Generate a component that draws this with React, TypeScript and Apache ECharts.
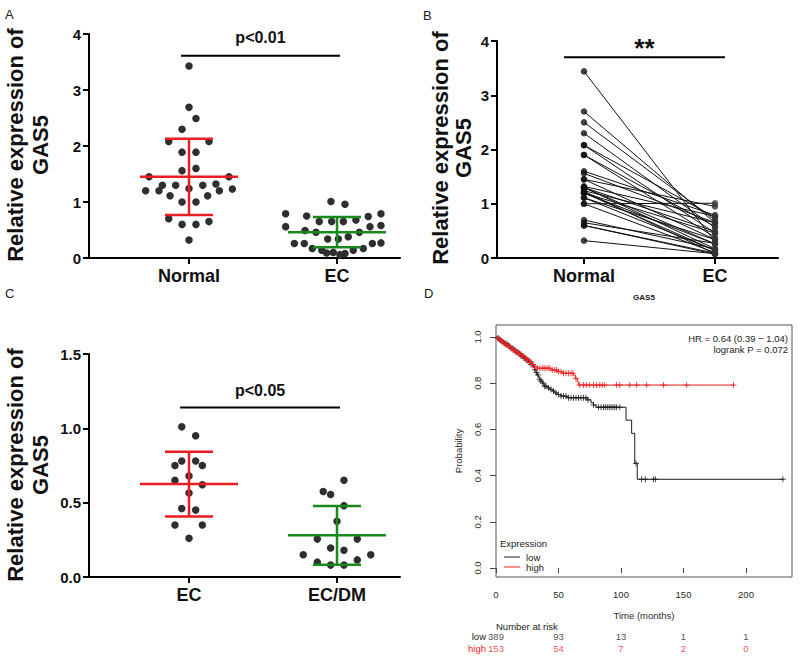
import React, { useEffect, useRef } from 'react';
import * as echarts from 'echarts';

const FONT = '"Liberation Sans", Arial, Helvetica, sans-serif';
const RED = '#ee1c22';
const GREEN = '#178a1b';
const DOT = '#2f2f2f';
const KM_RED = '#f01e1e';
const KM_BLACK = '#1c1c1c';

// ---------- Panel A ----------
const catsA = ['Normal', 'EC'];
const normalA = [3.43, 2.69, 2.49, 2.30, 2.08, 2.08, 1.89, 1.89, 1.56, 1.60, 1.45, 1.45, 1.30, 1.30, 1.30, 1.32, 1.20, 1.20, 1.24, 1.20, 1.23, 1.11, 1.11, 1.00, 1.00, 0.70, 0.60, 0.60, 0.65, 0.32];
const normalAJitter = [0, 0, 0.047, -0.047, -0.137, 0.135, -0.047, 0.047, -0.047, 0.047, -0.27, 0.27, -0.18, -0.09, 0.093, 0.182, -0.293, -0.203, 0, 0.205, 0.293, -0.128, 0.126, -0.047, 0.047, -0.137, -0.047, 0.047, 0.135, 0];
const ecA = [1.01, 0.96, 0.79, 0.75, 0.74, 0.79, 0.65, 0.65, 0.65, 0.68, 0.56, 0.56, 0.58, 0.49, 0.46, 0.46, 0.34, 0.34, 0.38, 0.26, 0.26, 0.26, 0.27, 0.17, 0.14, 0.14, 0.17, 0.10, 0.08, 0.09, 0.06];
const ecAJitter = [-0.041, 0.054, -0.347, -0.205, 0.211, 0.297, -0.12, -0.036, 0.043, 0.128, -0.347, 0.223, 0.297, -0.216, -0.142, 0.151, -0.063, 0.009, 0.076, -0.288, -0.221, 0.239, 0.297, -0.167, -0.103, 0.11, 0.178, -0.025, 0.054, -0.07, 0.02];
const meanA = [1.45, 0.46];
const sdA = [0.68, 0.27];

// ---------- Panel B (paired) ----------
const catsB = ['Normal', 'EC'];
const pairedNormalB = [3.44, 2.70, 2.50, 2.30, 2.08, 2.08, 1.90, 1.90, 1.60, 1.56, 1.45, 1.45, 1.32, 1.30, 1.30, 1.30, 1.24, 1.20, 1.20, 1.20, 1.23, 1.11, 1.11, 1.00, 1.00, 0.70, 0.65, 0.60, 0.60, 0.32];
const pairedEcB = [0.30, 0.65, 0.70, 0.56, 0.75, 0.46, 0.38, 0.58, 0.79, 0.65, 0.95, 0.34, 0.77, 0.26, 0.49, 0.17, 0.65, 0.46, 0.14, 0.26, 0.08, 0.34, 0.14, 1.01, 0.10, 0.17, 0.27, 0.09, 0.07, 0.08];

// ---------- Panel C ----------
const catsC = ['EC', 'EC/DM'];
const ecC = [1.01, 0.95, 0.78, 0.78, 0.75, 0.75, 0.68, 0.65, 0.62, 0.565, 0.46, 0.45, 0.35, 0.35, 0.26];
const ecCJitter = [-0.049, 0.045, -0.049, 0.045, -0.095, 0.09, 0, -0.095, 0.09, 0, -0.049, 0.045, -0.095, 0.09, 0];
const dmC = [0.65, 0.575, 0.555, 0.48, 0.375, 0.255, 0.255, 0.195, 0.18, 0.15, 0.15, 0.10, 0.115, 0.08, 0.08];
const dmCJitter = [0.047, -0.093, -0.043, 0.047, 0, -0.133, 0.137, -0.043, 0.047, -0.228, 0.228, -0.133, 0.137, -0.043, 0.047];
const meanC = [0.625, 0.28];
const sdC = [0.218, 0.197];

// ---------- Panel D (Kaplan-Meier) ----------
const kmLowSteps = [[0, 1.0], [1, 0.995], [2.5, 0.99], [4, 0.984], [5.5, 0.978], [7, 0.972], [8.5, 0.966], [10, 0.959], [12, 0.951], [14, 0.943], [16, 0.935], [18, 0.927], [20, 0.918], [22, 0.909], [24, 0.9], [26, 0.891], [28, 0.881], [30, 0.868], [31, 0.858], [32, 0.846], [33, 0.836], [34, 0.826], [35, 0.817], [36, 0.809], [37, 0.801], [38, 0.794], [39, 0.787], [41, 0.78], [43, 0.773], [45, 0.766], [47, 0.758], [49, 0.751], [52, 0.744], [57, 0.737], [73, 0.728], [76, 0.716], [78, 0.706], [80, 0.696], [104, 0.64], [108.5, 0.583], [111, 0.453], [113, 0.384], [230, 0.384]];
const kmHighSteps = [[0, 1.0], [1.5, 0.993], [3, 0.987], [4.5, 0.98], [6, 0.973], [8, 0.966], [9.5, 0.959], [11, 0.952], [13, 0.945], [15, 0.938], [17, 0.931], [19, 0.923], [21, 0.915], [23, 0.907], [25, 0.899], [27, 0.89], [29, 0.881], [31, 0.872], [33, 0.865], [44, 0.857], [49, 0.85], [53, 0.843], [62, 0.835], [63.5, 0.82], [65, 0.806], [66, 0.792], [190, 0.792]];
const censorLow = [1.5, 3, 4, 5.5, 7, 8, 9.5, 11, 12, 13.5, 15, 16, 17.5, 19, 20, 21.5, 23, 24, 25.5, 27, 28, 29.5, 31, 32.5, 33.5, 35, 36, 37.5, 39, 40, 42, 44, 46, 48, 50, 52, 54, 56, 58, 60, 62, 64, 66, 68, 70, 72, 73.5, 78, 82, 84, 86, 87.5, 89, 90.5, 92, 93.5, 95, 96.5, 99, 112, 116.5, 119.5, 126, 127.5, 229.5];
const censorHigh = [2, 3.5, 5, 6.5, 8, 9, 10.5, 12, 13.5, 14.5, 16, 17, 18.5, 20, 21, 22.5, 24, 25, 26.5, 28, 29, 31, 33, 35, 37, 38.5, 40, 41.5, 43, 45, 47, 48.5, 50, 52, 54, 56, 58, 60, 61.5, 64, 67, 70, 72.5, 75, 78, 80.5, 83, 85, 87, 96.5, 99, 107, 112.5, 120.5, 134, 152.5, 190];
const riskTimes = [0, 50, 100, 150, 200];
const riskLow = [389, 93, 13, 1, 1];
const riskHigh = [153, 54, 7, 2, 0];
const timeTicks = [0, 50, 100, 150, 200];
const probTicks = [0, 0.2, 0.4, 0.6, 0.8, 1.0];
const hrLines = ['HR = 0.64 (0.39 \u2212 1.04)', 'logrank P = 0.072'];

const survAt = (steps: number[][], t: number) => {
  let s = steps[0][1];
  for (const [tt, v] of steps) {
    if (tt <= t) s = v;
    else break;
  }
  return s;
};

const PLUS = 'path://M0,5L10,5M5,0L5,10';

const gpYAxis = (gridIndex: number, max: number, interval: number, decimals: number) => ({
  type: 'value', gridIndex, min: 0, max, interval,
  axisLine: { show: true, onZero: false, lineStyle: { color: '#000', width: 2 } },
  axisTick: { show: true, length: 6, lineStyle: { color: '#000', width: 2 } },
  axisLabel: { color: '#111', fontSize: 15, fontWeight: 'bold', fontFamily: FONT, margin: 8, formatter: (v: number) => v.toFixed(decimals) },
  splitLine: { show: false },
});

const gpXAxis = (gridIndex: number, min: number, max: number, cats: string[]) => ({
  type: 'value', gridIndex, min, max,
  axisLine: { show: true, onZero: false, lineStyle: { color: '#000', width: 2 } },
  axisTick: { show: true, length: 6, customValues: cats.map((_, i) => i), lineStyle: { color: '#000', width: 2 } },
  axisLabel: { customValues: cats.map((_, i) => i), formatter: (v: number) => cats[Math.round(v)] ?? '', color: '#111', fontSize: 18, fontWeight: 'bold', fontFamily: FONT, margin: 9 },
  splitLine: { show: false },
});

const dotSeries = (axis: number, values: number[], jitter: number[], group: number, size: number) => ({
  type: 'scatter', xAxisIndex: axis, yAxisIndex: axis, symbolSize: size, silent: true,
  itemStyle: { color: DOT, opacity: 1 },
  data: values.map((v, i) => [group + jitter[i], v]),
  z: 2,
});

const errorBarSeries = (axis: number, means: number[], sds: number[], colors: string[]) => ({
  type: 'custom', xAxisIndex: axis, yAxisIndex: axis, silent: true, clip: false,
  encode: { x: 0, y: 1 },
  data: means.map((m, i) => [i, m, sds[i]]),
  renderItem: (params: any, api: any) => {
    const x = api.value(0), m = api.value(1), s = api.value(2);
    const c = api.coord([x, m]);
    const top = api.coord([x, m + s]);
    const bot = api.coord([x, m - s]);
    const st = { stroke: colors[params.dataIndex], lineWidth: 2.5 };
    return {
      type: 'group', children: [
        { type: 'line', shape: { x1: c[0] - 49, y1: c[1], x2: c[0] + 49, y2: c[1] }, style: st },
        { type: 'line', shape: { x1: c[0], y1: top[1], x2: c[0], y2: bot[1] }, style: st },
        { type: 'line', shape: { x1: c[0] - 24, y1: top[1], x2: c[0] + 24, y2: top[1] }, style: st },
        { type: 'line', shape: { x1: c[0] - 24, y1: bot[1], x2: c[0] + 24, y2: bot[1] }, style: st },
      ],
    };
  },
  z: 5,
});

const sigSeries = (axis: number, x1: number, x2: number, y: number, text: string, fontSize: number, dy: number) => ({
  type: 'custom', xAxisIndex: axis, yAxisIndex: axis, silent: true, clip: false,
  encode: { x: 0, y: 1 },
  data: [[x1, y, x2]],
  renderItem: (_p: any, api: any) => {
    const a = api.coord([api.value(0), api.value(1)]);
    const b = api.coord([api.value(2), api.value(1)]);
    return {
      type: 'group', children: [
        { type: 'line', shape: { x1: a[0], y1: a[1], x2: b[0], y2: a[1] }, style: { stroke: '#000', lineWidth: 2 } },
        { type: 'text', x: (a[0] + b[0]) / 2, y: a[1] - dy, style: { text, fill: '#111', font: `bold ${fontSize}px ${FONT}`, align: 'center', verticalAlign: 'middle', textAlign: 'center', textVerticalAlign: 'middle' } },
      ],
    };
  },
});

const yTitle = (x: number, y: number, lh: number) => ({
  type: 'text', x, y, rotation: Math.PI / 2,
  style: { text: 'Relative expression of\nGAS5', font: `bold 22px ${FONT}`, fill: '#111', textAlign: 'center', textVerticalAlign: 'middle', align: 'center', verticalAlign: 'middle', lineHeight: lh },
});

const panelLabel = (text: string, left: number, top: number) => ({
  type: 'text', left, top, style: { text, font: `13px ${FONT}`, fill: '#222' },
});

const smallText = (text: string, x: number, y: number, align: string, color = '#222', size = 9.5, bold = false) => ({
  type: 'text', x, y,
  style: { text, font: `${bold ? 'bold ' : ''}${size}px ${FONT}`, fill: color, textAlign: align, align, textVerticalAlign: 'middle', verticalAlign: 'middle' },
});

const smallAxisText = { color: '#2a2a2a', fontSize: 9.5, fontFamily: FONT };

const option: any = {
  animation: false,
  backgroundColor: '#fff',
  grid: [
    { left: 89, top: 34, width: 311, height: 224 },
    { left: 497, top: 41, width: 281, height: 217 },
    { left: 89, top: 354, width: 311, height: 223 },
    { left: 496, top: 325, width: 296, height: 252, show: true, borderColor: '#555', borderWidth: 1, backgroundColor: 'transparent' },
    { left: 496, top: 630, width: 296, height: 24 },
  ],
  xAxis: [
    gpXAxis(0, -0.6757, 1.4257, catsA),
    gpXAxis(1, -0.664, 1.481, catsB),
    gpXAxis(2, -0.6757, 1.4257, catsC),
    {
      type: 'value', gridIndex: 3, min: 0, max: 236.8,
      axisLine: { show: false },
      axisTick: { show: true, length: 5, customValues: timeTicks, lineStyle: { color: '#444', width: 1 } },
      axisLabel: { ...smallAxisText, customValues: timeTicks, margin: 12 },
      splitLine: { show: false },
      name: 'Time (months)', nameLocation: 'middle', nameGap: 33, nameTextStyle: { ...smallAxisText },
    },
    { type: 'value', gridIndex: 4, min: 0, max: 236.8, show: false },
  ],
  yAxis: [
    gpYAxis(0, 4, 1, 0),
    gpYAxis(1, 4, 1, 0),
    gpYAxis(2, 1.5, 0.5, 1),
    {
      type: 'value', gridIndex: 3, min: -0.039, max: 1.052,
      axisLine: { show: false },
      axisTick: { show: true, length: 6, customValues: probTicks, lineStyle: { color: '#444', width: 1 } },
      axisLabel: { show: false },
      splitLine: { show: false },
      name: 'Probability', nameLocation: 'middle', nameRotate: 90, nameGap: 33, nameTextStyle: { ...smallAxisText },
    },
    {
      type: 'category', gridIndex: 4, data: ['high', 'low'],
      axisLine: { show: false }, axisTick: { show: false },
      axisLabel: { ...smallAxisText, interval: 0, margin: 10, color: (v: string) => (v === 'high' ? KM_RED : '#222') },
    },
  ],
  series: [
    // Panel A
    dotSeries(0, normalA, normalAJitter, 0, 7.5),
    dotSeries(0, ecA, ecAJitter, 1, 7.5),
    errorBarSeries(0, meanA, sdA, [RED, GREEN]),
    sigSeries(0, -0.054, 1.02, 3.61, 'p<0.01', 16, 18),
    // Panel B
    {
      type: 'lines', coordinateSystem: 'cartesian2d', xAxisIndex: 1, yAxisIndex: 1, silent: true,
      lineStyle: { color: '#111', width: 1, opacity: 1 },
      data: pairedNormalB.map((n, i) => ({ coords: [[0, n], [1, pairedEcB[i]]] })),
      z: 1,
    },
    { type: 'scatter', xAxisIndex: 1, yAxisIndex: 1, symbolSize: 6.5, silent: true, itemStyle: { color: '#111' }, data: pairedNormalB.map((v) => [0, v]), z: 2 },
    { type: 'scatter', xAxisIndex: 1, yAxisIndex: 1, symbolSize: 6.5, silent: true, itemStyle: { color: '#333' }, data: pairedEcB.map((v) => [1, v]), z: 2 },
    sigSeries(1, -0.153, 1.076, 3.70, '**', 26, 9),
    // Panel C
    dotSeries(2, ecC, ecCJitter, 0, 7.5),
    dotSeries(2, dmC, dmCJitter, 1, 7.5),
    errorBarSeries(2, meanC, sdC, [RED, GREEN]),
    sigSeries(2, -0.06, 1.02, 1.14, 'p<0.05', 16, 17),
    // Panel D: rotated probability tick labels (R style)
    {
      type: 'custom', xAxisIndex: 3, yAxisIndex: 3, silent: true, clip: false,
      encode: { x: 0, y: 1 },
      data: probTicks.map((v) => [0, v]),
      renderItem: (_p: any, api: any) => {
        const v = api.value(1);
        const c = api.coord([0, v]);
        return {
          type: 'text', x: c[0] - 19, y: c[1], rotation: Math.PI / 2,
          style: { text: v.toFixed(1), fill: '#2a2a2a', font: `9.5px ${FONT}`, align: 'center', verticalAlign: 'middle', textAlign: 'center', textVerticalAlign: 'middle' },
        };
      },
    },
    { name: 'low', type: 'line', xAxisIndex: 3, yAxisIndex: 3, step: 'end', symbol: 'none', silent: true, lineStyle: { color: KM_BLACK, width: 1 }, itemStyle: { color: KM_BLACK }, data: kmLowSteps, z: 2 },
    { name: 'high', type: 'line', xAxisIndex: 3, yAxisIndex: 3, step: 'end', symbol: 'none', silent: true, lineStyle: { color: KM_RED, width: 1 }, itemStyle: { color: KM_RED }, data: kmHighSteps, z: 3 },
    { name: 'low censored', type: 'scatter', xAxisIndex: 3, yAxisIndex: 3, symbol: PLUS, symbolSize: 6, silent: true, itemStyle: { color: 'transparent', borderColor: KM_BLACK, borderWidth: 1 }, data: censorLow.map((t) => [t, survAt(kmLowSteps, t)]), z: 2 },
    { name: 'high censored', type: 'scatter', xAxisIndex: 3, yAxisIndex: 3, symbol: PLUS, symbolSize: 6, silent: true, itemStyle: { color: 'transparent', borderColor: KM_RED, borderWidth: 1 }, data: censorHigh.map((t) => [t, survAt(kmHighSteps, t)]), z: 3 },
    // Number at risk
    { type: 'scatter', xAxisIndex: 4, yAxisIndex: 4, symbolSize: 1, silent: true, itemStyle: { color: 'transparent' }, label: { show: true, position: 'inside', ...smallAxisText, color: '#222', formatter: (p: any) => String(p.value[2]) }, data: riskTimes.map((t, i) => [t, 'low', riskLow[i]]) },
    { type: 'scatter', xAxisIndex: 4, yAxisIndex: 4, symbolSize: 1, silent: true, itemStyle: { color: 'transparent' }, label: { show: true, position: 'inside', ...smallAxisText, color: KM_RED, formatter: (p: any) => String(p.value[2]) }, data: riskTimes.map((t, i) => [t, 'high', riskHigh[i]]) },
  ],
  graphic: [
    panelLabel('A', 5, 8),
    panelLabel('B', 423, 9),
    panelLabel('C', 5, 287),
    panelLabel('D', 424, 287),
    yTitle(28, 145, 25),
    yTitle(452, 148, 23),
    yTitle(28, 465, 25),
    smallText('GAS5', 644, 297, 'center', '#222', 8, true),
    smallText(hrLines[0], 788, 338, 'right'),
    smallText(hrLines[1], 788, 349, 'right'),
    smallText('Expression', 500, 543, 'left'),
    { type: 'line', shape: { x1: 504, y1: 557, x2: 520, y2: 557 }, style: { stroke: KM_BLACK, lineWidth: 1 } },
    smallText('low', 526, 557, 'left'),
    { type: 'line', shape: { x1: 504, y1: 567, x2: 520, y2: 567 }, style: { stroke: KM_RED, lineWidth: 1 } },
    smallText('high', 526, 567, 'left'),
    smallText('Number at risk', 496, 626, 'left'),
  ],
};

export default function App() {
  const ref = useRef<HTMLDivElement>(null);
  useEffect(() => {
    if (!ref.current) return;
    const chart = echarts.init(ref.current, null, { renderer: 'svg' });
    chart.setOption(option);
    return () => chart.dispose();
  }, []);
  return <div ref={ref} style={{ position: 'absolute', left: 0, top: 0, width: 800, height: 658, background: '#fff' }} />;
}
